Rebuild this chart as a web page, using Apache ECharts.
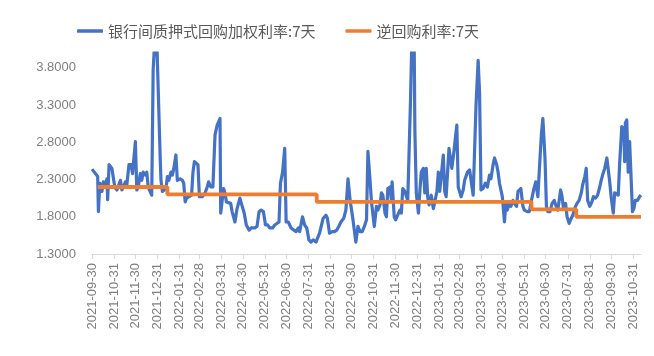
<!DOCTYPE html>
<html>
<head>
<meta charset="utf-8">
<script src="https://cdn.jsdelivr.net/npm/echarts@6/dist/echarts.min.js"></script>
<style>html,body{margin:0;padding:0;background:#fff;}#c{width:654px;height:356px;}</style>
</head>
<body>
<div id="c"></div>
<script>
const seriesNames = ['银行间质押式回购加权利率:7天', '逆回购利率:7天'];

const monthEndLabels = ['2021-09-30','2021-10-31','2021-11-30','2021-12-31','2022-01-31','2022-02-28','2022-03-31','2022-04-30','2022-05-31','2022-06-30','2022-07-31','2022-08-31','2022-09-30','2022-10-31','2022-11-30','2022-12-31','2023-01-31','2023-02-28','2023-03-31','2023-04-30','2023-05-31','2023-06-30','2023-07-31','2023-08-31','2023-09-30','2023-10-31'];

const rateDates = ['2021-09-30','2021-10-08','2021-10-09','2021-10-11','2021-10-14','2021-10-16','2021-10-18','2021-10-21','2021-10-22','2021-10-24','2021-10-28','2021-11-01','2021-11-04','2021-11-06','2021-11-09','2021-11-11','2021-11-13','2021-11-16','2021-11-18','2021-11-21','2021-11-24','2021-11-26','2021-11-30','2021-12-02','2021-12-04','2021-12-07','2021-12-09','2021-12-11','2021-12-14','2021-12-16','2021-12-18','2021-12-23','2021-12-25','2021-12-28','2021-12-30','2022-01-04','2022-01-05','2022-01-07','2022-01-12','2022-01-14','2022-01-16','2022-01-19','2022-01-21','2022-01-23','2022-01-26','2022-01-28','2022-02-01','2022-02-04','2022-02-06','2022-02-08','2022-02-10','2022-02-12','2022-02-17','2022-02-19','2022-02-21','2022-02-26','2022-02-28','2022-03-04','2022-03-08','2022-03-11','2022-03-13','2022-03-16','2022-03-19','2022-03-22','2022-03-25','2022-03-29','2022-03-30','2022-04-03','2022-04-05','2022-04-07','2022-04-09','2022-04-13','2022-04-15','2022-04-19','2022-04-22','2022-04-26','2022-04-28','2022-05-02','2022-05-05','2022-05-09','2022-05-12','2022-05-17','2022-05-20','2022-05-23','2022-05-26','2022-05-29','2022-06-01','2022-06-04','2022-06-07','2022-06-11','2022-06-14','2022-06-17','2022-06-20','2022-06-22','2022-06-25','2022-06-28','2022-06-30','2022-07-03','2022-07-05','2022-07-07','2022-07-11','2022-07-14','2022-07-17','2022-07-19','2022-07-23','2022-07-26','2022-07-29','2022-08-01','2022-08-04','2022-08-07','2022-08-11','2022-08-13','2022-08-16','2022-08-18','2022-08-21','2022-08-25','2022-08-27','2022-08-30','2022-09-03','2022-09-06','2022-09-09','2022-09-12','2022-09-15','2022-09-19','2022-09-22','2022-09-25','2022-09-28','2022-10-02','2022-10-06','2022-10-09','2022-10-12','2022-10-15','2022-10-18','2022-10-21','2022-10-23','2022-10-26','2022-10-28','2022-11-01','2022-11-04','2022-11-06','2022-11-09','2022-11-11','2022-11-13','2022-11-16','2022-11-18','2022-11-20','2022-11-23','2022-11-25','2022-11-26','2022-11-29','2022-12-01','2022-12-03','2022-12-07','2022-12-09','2022-12-11','2022-12-14','2022-12-16','2022-12-18','2022-12-22','2022-12-24','2022-12-27','2022-12-28','2022-12-30','2023-01-02','2023-01-04','2023-01-06','2023-01-09','2023-01-11','2023-01-13','2023-01-15','2023-01-17','2023-01-20','2023-01-23','2023-01-25','2023-01-28','2023-01-30','2023-02-01','2023-02-06','2023-02-08','2023-02-10','2023-02-14','2023-02-16','2023-02-18','2023-02-21','2023-02-25','2023-02-27','2023-03-03','2023-03-06','2023-03-08','2023-03-12','2023-03-15','2023-03-17','2023-03-20','2023-03-24','2023-03-27','2023-03-29','2023-03-31','2023-04-03','2023-04-06','2023-04-09','2023-04-12','2023-04-14','2023-04-17','2023-04-19','2023-04-22','2023-04-24','2023-04-26','2023-04-30','2023-05-03','2023-05-05','2023-05-07','2023-05-10','2023-05-12','2023-05-15','2023-05-17','2023-05-20','2023-05-22','2023-05-24','2023-05-26','2023-05-29','2023-05-31','2023-06-04','2023-06-07','2023-06-10','2023-06-13','2023-06-16','2023-06-19','2023-06-22','2023-06-24','2023-06-26','2023-06-29','2023-07-01','2023-07-03','2023-07-06','2023-07-09','2023-07-12','2023-07-14','2023-07-17','2023-07-21','2023-07-23','2023-07-25','2023-07-28','2023-07-30','2023-08-02','2023-08-04','2023-08-07','2023-08-11','2023-08-13','2023-08-16','2023-08-19','2023-08-21','2023-08-24','2023-08-26','2023-08-28','2023-08-31','2023-09-03','2023-09-05','2023-09-08','2023-09-11','2023-09-14','2023-09-16','2023-09-18','2023-09-21','2023-09-24','2023-09-28','2023-09-30','2023-10-03','2023-10-05','2023-10-07','2023-10-10','2023-10-12','2023-10-15','2023-10-18','2023-10-19','2023-10-20','2023-10-22','2023-10-24','2023-10-26','2023-10-28','2023-10-30','2023-11-01','2023-11-03','2023-11-06','2023-11-09','2023-11-11'];

const rateValues = [2.44,2.34,1.87,2.25,2.14,2.27,2.20,2.31,2.03,2.50,2.45,2.20,2.16,2.18,2.29,2.16,2.20,2.27,2.23,2.50,2.50,2.38,2.81,2.16,2.20,2.38,2.29,2.40,2.36,2.40,2.20,2.09,3.77,4.30,4.20,2.56,2.29,2.14,2.18,2.34,2.29,2.40,2.36,2.45,2.63,2.29,2.31,2.29,2.25,2.00,2.05,2.05,2.09,2.40,2.54,2.50,2.07,2.07,2.12,2.20,2.27,2.20,2.20,2.90,3.03,3.12,1.85,2.18,2.12,2.00,2.02,1.98,1.87,1.73,1.91,2.05,1.98,1.85,1.69,1.62,1.65,1.65,1.67,1.87,1.89,1.87,1.69,1.69,1.65,1.65,1.69,1.71,1.73,2.25,2.40,2.72,1.73,1.73,1.69,1.65,1.62,1.60,1.65,1.60,1.80,1.69,1.65,1.49,1.46,1.49,1.46,1.51,1.58,1.56,1.78,1.82,1.78,1.58,1.60,1.60,1.62,1.67,1.73,1.78,1.89,2.31,2.02,1.76,1.46,1.67,1.60,1.60,1.67,1.76,2.68,2.29,2.00,1.67,1.94,1.89,1.96,2.12,2.09,1.85,1.80,2.18,2.20,2.02,2.27,1.80,1.76,1.78,1.89,1.85,2.18,2.14,2.12,2.02,3.40,4.30,4.20,2.97,2.12,1.85,2.14,2.40,2.45,2.12,2.45,2.07,1.96,2.09,1.91,1.89,2.14,2.40,2.14,2.63,2.14,2.07,2.72,2.70,2.45,2.68,3.03,2.20,2.07,2.16,2.29,2.40,2.43,2.45,2.09,3.30,3.90,3.46,2.16,2.18,2.25,2.20,2.36,2.31,2.50,2.59,2.50,2.40,2.25,2.07,1.73,2.00,1.89,1.98,1.94,2.02,1.98,1.94,2.14,2.12,2.18,1.94,1.89,1.87,1.87,2.02,2.16,2.27,2.07,2.59,2.92,3.12,2.59,1.94,1.87,1.87,1.98,2.02,1.96,1.89,2.16,2.07,1.91,1.98,1.80,1.71,1.76,1.82,1.94,1.98,2.02,2.12,2.23,2.34,2.45,2.02,1.94,2.00,2.07,2.05,2.09,2.20,2.29,2.36,2.45,2.59,2.27,2.07,1.85,2.12,2.14,2.09,2.52,3.01,2.97,2.54,3.06,3.10,2.40,2.81,2.79,1.87,1.91,2.02,2.02,2.07,2.09];

const repoDates = ['2021-10-08','2022-01-14','2022-08-12','2023-06-10','2023-08-12','2023-11-11'];
const repoValues = [2.2, 2.1, 2.0, 1.9, 1.8, 1.8];

function parseLocal(s) {
  const p = s.split('-').map(Number);
  return new Date(p[0], p[1] - 1, p[2]).getTime();
}
function pad(n) { return (n < 10 ? '0' : '') + n; }
function fmtDate(v) {
  const d = new Date(v);
  return d.getFullYear() + '-' + pad(d.getMonth() + 1) + '-' + pad(d.getDate());
}

const tickValues = monthEndLabels.map(parseLocal);
const rateData = rateDates.map((d, i) => [parseLocal(d), rateValues[i]]);
const repoData = repoDates.map((d, i) => [parseLocal(d), repoValues[i]]);

const chart = echarts.init(document.getElementById('c'), null, { renderer: 'canvas' });
chart.setOption({
  animation: false,
  backgroundColor: '#ffffff',
  legend: {
    left: 72,
    top: 17,
    icon: 'roundRect',
    itemWidth: 26,
    itemHeight: 3.5,
    itemGap: 30,
    textStyle: { fontSize: 15, color: '#595959', fontFamily: 'Noto Sans CJK SC', lineHeight: 18 },
    data: seriesNames
  },
  grid: { left: 92, right: 13, top: 53, bottom: 102, containLabel: false },
  xAxis: {
    type: 'value',
    min: parseLocal('2021-09-30'),
    max: parseLocal('2023-11-11'),
    axisLine: { show: true, lineStyle: { color: '#d9d9d9', width: 1 } },
    axisTick: { show: true, length: 5, lineStyle: { color: '#d9d9d9' }, customValues: tickValues },
    splitLine: { show: false },
    axisLabel: {
      customValues: tickValues,
      rotate: 90,
      margin: 9,
      fontSize: 13,
      color: '#808080',
      fontFamily: 'Liberation Sans',
      hideOverlap: false,
      formatter: function (v) { return fmtDate(v); }
    }
  },
  yAxis: {
    type: 'value',
    min: 1.3,
    max: 4.0,
    interval: 0.5,
    axisLine: { show: false },
    axisTick: { show: false },
    splitLine: { show: false },
    axisLabel: {
      margin: 16,
      fontSize: 13,
      color: '#808080',
      fontFamily: 'Liberation Sans',
      showMaxLabel: false,
      formatter: function (v) { return v.toFixed(4); }
    }
  },
  series: [
    {
      name: seriesNames[0],
      type: 'line',
      data: rateData,
      symbol: 'none',
      clip: true,
      lineStyle: { color: '#4472C4', width: 3.2, join: 'round' },
      itemStyle: { color: '#4472C4' }
    },
    {
      name: seriesNames[1],
      type: 'line',
      data: repoData,
      step: 'end',
      symbol: 'none',
      clip: true,
      lineStyle: { color: '#ED7D31', width: 3.8 },
      itemStyle: { color: '#ED7D31' }
    }
  ]
});
</script>
</body>
</html>
